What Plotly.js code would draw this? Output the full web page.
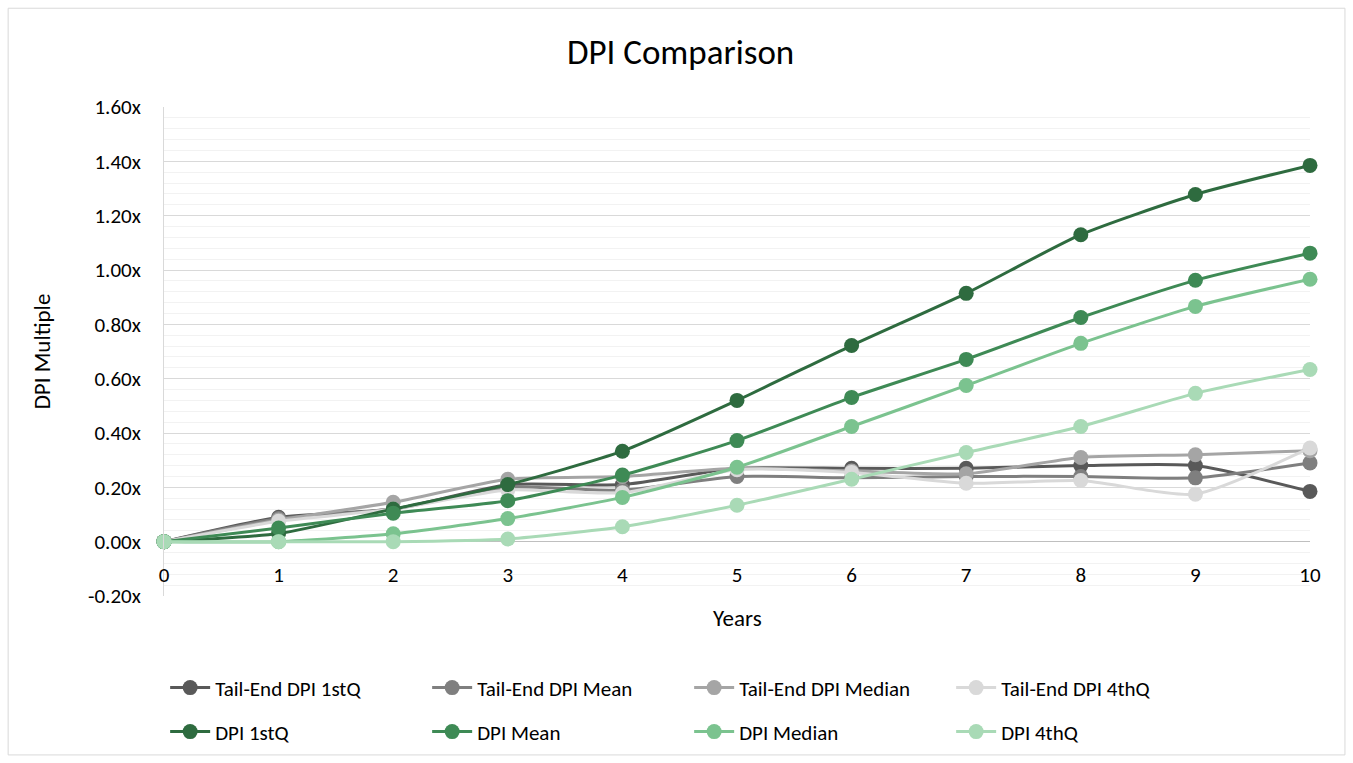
<!DOCTYPE html>
<html>
<head>
<meta charset="utf-8">
<script src="https://cdn.plot.ly/plotly-3.0.1.min.js"></script>
<style>html,body{margin:0;padding:0;background:#fff;}#chart{width:1353px;height:763px;}</style>
</head>
<body>
<div id="chart"></div>
<script>
const years = [0, 1, 2, 3, 4, 5, 6, 7, 8, 9, 10];
const seriesNames = ["Tail-End DPI 1stQ", "Tail-End DPI Mean", "Tail-End DPI Median", "Tail-End DPI 4thQ",
                     "DPI 1stQ", "DPI Mean", "DPI Median", "DPI 4thQ"];
const tailEnd1stQ   = [0, 0.09, 0.12, 0.21, 0.21, 0.27, 0.27, 0.27, 0.28, 0.28, 0.185];
const tailEndMean   = [0, 0.085, 0.12, 0.20, 0.19, 0.24, 0.235, 0.24, 0.24, 0.235, 0.29];
const tailEndMedian = [0, 0.08, 0.145, 0.23, 0.24, 0.27, 0.26, 0.25, 0.31, 0.32, 0.335];
const tailEnd4thQ   = [0, 0.075, 0.12, 0.19, 0.18, 0.265, 0.255, 0.215, 0.225, 0.175, 0.345];
const dpi1stQ   = [0, 0.03, 0.12, 0.21, 0.333, 0.52, 0.722, 0.914, 1.13, 1.278, 1.385];
const dpiMean   = [0, 0.05, 0.105, 0.151, 0.245, 0.372, 0.531, 0.671, 0.825, 0.962, 1.062];
const dpiMedian = [0, 0.0, 0.029, 0.085, 0.163, 0.274, 0.424, 0.575, 0.73, 0.866, 0.966];
const dpi4thQ   = [0, 0.0, 0.0, 0.01, 0.055, 0.134, 0.23, 0.328, 0.424, 0.546, 0.634];
const yTickVals = [-0.2, 0, 0.2, 0.4, 0.6, 0.8, 1.0, 1.2, 1.4, 1.6];
const xTickVals = [0, 1, 2, 3, 4, 5, 6, 7, 8, 9, 10];

const allValues = [tailEnd1stQ, tailEndMean, tailEndMedian, tailEnd4thQ, dpi1stQ, dpiMean, dpiMedian, dpi4thQ];
const colors = ["#595959", "#7F7F7F", "#A5A5A5", "#D9D9D9", "#2E6B3F", "#3E8A55", "#7BC38F", "#A9DAB6"];
const FONT = "Carlito, Lato, 'Liberation Sans', sans-serif";

const traces = allValues.map((vals, i) => ({
  x: years,
  y: vals,
  name: seriesNames[i],
  type: "scatter",
  mode: "lines+markers",
  line: {color: colors[i], width: 3, shape: "spline", smoothing: 0.6},
  marker: {color: colors[i], size: 15},
  cliponaxis: false,
  legend: i < 4 ? "legend" : "legend2"
}));

const legendCommon = {
  orientation: "h",
  xanchor: "left",
  x: 0.001,
  yanchor: "middle",
  entrywidth: 207,
  entrywidthmode: "pixels",
  itemwidth: 40,
  font: {family: FONT, size: 21, color: "#000000"},
  bgcolor: "rgba(0,0,0,0)",
  traceorder: "normal"
};

const layout = {
  width: 1353,
  height: 763,
  paper_bgcolor: "#ffffff",
  plot_bgcolor: "#ffffff",
  margin: {l: 164, r: 43, t: 107, b: 167, autoexpand: false},
  font: {family: FONT, color: "#000000"},
  title: {
    text: "DPI Comparison",
    font: {family: FONT, size: 35, color: "#000000"},
    x: 0.503, xanchor: "center", xref: "container",
    y: 1 - 52 / 763, yanchor: "middle", yref: "container"
  },
  xaxis: {
    range: [0, 10],
    tickvals: xTickVals,
    ticktext: xTickVals.map(String),
    showgrid: false,
    zeroline: false,
    showline: false,
    ticks: "outside",
    ticklen: 14,
    tickcolor: "rgba(0,0,0,0)",
    anchor: "free",
    position: 0.2 / 1.8,
    tickfont: {family: FONT, size: 21, color: "#000000"},
    fixedrange: true
  },
  yaxis: {
    range: [-0.2, 1.6],
    tickvals: yTickVals,
    ticktext: yTickVals.map(v => v.toFixed(2) + "x"),
    showgrid: true,
    gridcolor: "#D9D9D9",
    gridwidth: 1,
    minor: {dtick: 0.04, tick0: 0, showgrid: true, gridcolor: "#F2F2F2", gridwidth: 1},
    zeroline: true,
    zerolinecolor: "#BFBFBF",
    zerolinewidth: 1.5,
    showline: true,
    linecolor: "#D9D9D9",
    linewidth: 1,
    ticks: "outside",
    ticklen: 18,
    tickcolor: "rgba(0,0,0,0)",
    tickfont: {family: FONT, size: 21, color: "#000000"},
    title: {text: "DPI Multiple", font: {family: FONT, size: 23, color: "#000000"}, standoff: 30},
    fixedrange: true
  },
  legend: Object.assign({}, legendCommon, {y: -0.188}),
  legend2: Object.assign({}, legendCommon, {y: -0.278}),
  annotations: [{
    text: "Years",
    xref: "paper", yref: "paper",
    x: 0.5, y: -0.045,
    xanchor: "center", yanchor: "middle",
    showarrow: false,
    font: {family: FONT, size: 23, color: "#000000"}
  }],
  shapes: [{
    type: "rect", xref: "paper", yref: "paper",
    x0: -0.136, x1: 1.0305, y0: -0.325, y1: 1.202,
    line: {color: "#D9D9D9", width: 1},
    fillcolor: "rgba(0,0,0,0)",
    layer: "below"
  }],
  showlegend: true
};

Plotly.newPlot("chart", traces, layout, {displayModeBar: false, staticPlot: true});
</script>
</body>
</html>
